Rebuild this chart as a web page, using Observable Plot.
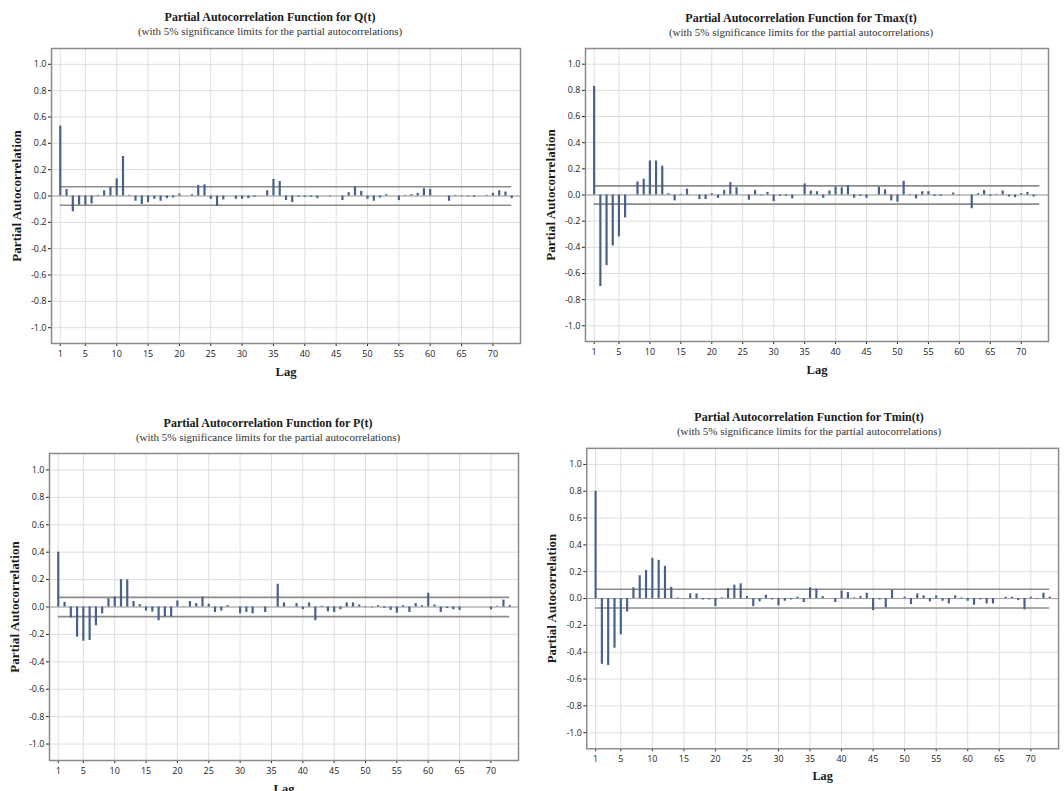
<!DOCTYPE html>
<html><head><meta charset="utf-8">
<script src="https://cdn.jsdelivr.net/npm/d3@7"></script>
<script src="https://cdn.jsdelivr.net/npm/@observablehq/plot@0.6"></script>
<style>
html,body{margin:0;padding:0;background:#fff;}
#root{position:relative;width:1064px;height:791px;overflow:hidden;background:#fff;}
.title{position:absolute;transform:translateX(-50%);white-space:nowrap;font-family:"Liberation Serif","Times New Roman",serif;color:#1a1a1a;line-height:1;}
.t1{font-weight:bold;font-size:12px;}
.t2{font-size:11px;color:#333;}
.panel{position:absolute;}
.panel svg g[aria-label="y-axis label"] text{font-family:"Liberation Serif",serif;font-weight:bold;font-size:13px;letter-spacing:0.1px;fill:#1a1a1a;}
.panel svg g[aria-label="x-axis label"] text{font-family:"Liberation Serif",serif;font-weight:bold;font-size:12.5px;fill:#1a1a1a;}
</style>
</head><body><div id="root"></div>
<script>
const lags = [1,2,3,4,5,6,7,8,9,10,11,12,13,14,15,16,17,18,19,20,21,22,23,24,25,26,27,28,29,30,31,32,33,34,35,36,37,38,39,40,41,42,43,44,45,46,47,48,49,50,51,52,53,54,55,56,57,58,59,60,61,62,63,64,65,66,67,68,69,70,71,72,73];
const xTicks = [1,5,10,15,20,25,30,35,40,45,50,55,60,65,70];
const yTicks = [-1.0,-0.8,-0.6,-0.4,-0.2,0.0,0.2,0.4,0.6,0.8,1.0];
const sigLimit = 0.07;

const pacfQ = [0.53,0.05,-0.12,-0.07,-0.07,-0.06,0.005,0.04,0.065,0.13,0.30,0.005,-0.04,-0.065,-0.05,-0.025,-0.04,-0.02,-0.015,0.015,0.0,0.01,0.08,0.085,-0.025,-0.08,-0.03,0.0,-0.025,-0.025,-0.02,-0.01,0.0,0.04,0.125,0.11,-0.035,-0.05,-0.01,-0.01,-0.01,-0.02,0.0,-0.005,0.0,-0.035,0.025,0.07,0.035,-0.025,-0.04,-0.015,0.01,0.0,-0.035,0.005,0.01,0.02,0.055,0.05,0.0,0.0,-0.04,0.005,-0.005,-0.005,-0.01,0.0,0.005,0.02,0.04,0.03,-0.02];
const pacfTmax = [0.83,-0.70,-0.54,-0.39,-0.32,-0.175,0.0,0.10,0.12,0.26,0.26,0.22,0.01,-0.045,0.005,0.045,0.0,-0.035,-0.035,0.01,-0.025,0.035,0.095,0.055,0.0,-0.04,0.035,-0.005,0.02,-0.05,-0.01,-0.01,-0.03,0.0,0.085,0.03,0.025,-0.025,0.03,0.06,0.055,0.07,-0.025,-0.01,-0.025,0.0,0.06,0.04,-0.045,-0.055,0.105,0.005,-0.03,0.025,0.025,-0.01,-0.01,0.0,0.015,-0.005,0.0,-0.105,0.01,0.035,-0.01,0.005,0.03,-0.015,-0.02,0.01,0.02,-0.015,0.0];
const pacfP = [0.40,0.034,-0.08,-0.22,-0.25,-0.245,-0.137,-0.05,0.06,0.073,0.20,0.198,0.04,0.017,-0.03,-0.037,-0.10,-0.073,-0.073,0.044,0.003,0.04,0.025,0.073,0.02,-0.04,-0.03,0.01,0.0,-0.05,-0.04,-0.05,0.0,-0.04,0.0,0.166,0.03,0.0,0.025,-0.02,0.03,-0.10,0.005,-0.035,-0.04,-0.02,0.03,0.03,0.015,-0.005,-0.005,0.01,-0.01,-0.025,-0.045,0.01,-0.04,0.025,0.01,0.10,0.015,-0.04,-0.01,-0.02,-0.025,0.0,0.0,0.0,0.0,-0.02,0.005,0.05,0.01];
const pacfTmin = [0.80,-0.49,-0.50,-0.37,-0.27,-0.10,0.08,0.17,0.21,0.30,0.285,0.24,0.084,0.005,0.0,0.035,0.035,-0.01,-0.01,-0.06,0.005,0.075,0.10,0.11,0.015,-0.06,-0.025,0.025,-0.01,-0.055,-0.02,-0.01,0.01,-0.03,0.08,0.07,0.015,0.0,-0.03,0.057,0.045,0.005,0.015,0.04,-0.09,-0.01,-0.07,0.062,0.0,0.01,-0.045,0.035,0.02,-0.025,0.02,-0.02,-0.04,0.02,0.005,-0.02,-0.05,-0.01,-0.04,-0.04,0.0,0.01,0.01,-0.015,-0.085,0.01,-0.005,0.04,0.01];

const subtitle = "(with 5% significance limits for the partial autocorrelations)";
const panels = [
  {name:"Q(t)", values:pacfQ, left:51, top:48, right:520, bottom:343, tx:270, ty:11},
  {name:"Tmax(t)", values:pacfTmax, left:585, top:48, right:1048, bottom:341, tx:801, ty:12},
  {name:"P(t)", values:pacfP, left:49, top:453, right:518, bottom:760, tx:268, ty:417},
  {name:"Tmin(t)", values:pacfTmin, left:587, top:448, right:1066, bottom:753, tx:809, ty:411}
];

const root = document.getElementById("root");
const mL = 50, mR = 6, mT = 10, mB = 45;
for (const p of panels) {
  const t1 = document.createElement("div");
  t1.className = "title t1";
  t1.textContent = "Partial Autocorrelation Function for " + p.name;
  t1.style.left = p.tx + "px"; t1.style.top = p.ty + "px";
  root.appendChild(t1);
  const t2 = document.createElement("div");
  t2.className = "title t2";
  t2.textContent = subtitle;
  t2.style.left = p.tx + "px"; t2.style.top = (p.ty + 15) + "px";
  root.appendChild(t2);

  const rows = lags.map((lag, i) => ({lag, pacf: p.values[i]}));
  const chart = Plot.plot({
    width: (p.right - p.left) + mL + mR,
    height: (p.bottom - p.top) + mT + mB,
    marginLeft: mL, marginRight: mR, marginTop: mT, marginBottom: mB,
    style: {fontFamily: "'Open Sans', sans-serif", fontSize: "9px", color: "#222", background: "transparent", overflow: "visible"},
    x: {domain: [-0.4, 74.4]},
    y: {domain: [-1.12, 1.12]},
    marks: [
      Plot.gridX(xTicks, {stroke: "#dedede", strokeOpacity: 1, strokeWidth: 1}),
      Plot.gridY(yTicks, {stroke: "#dedede", strokeOpacity: 1, strokeWidth: 1}),
      Plot.ruleY([0], {stroke: "#a0a0a0", strokeWidth: 1}),
      Plot.ruleY([sigLimit, -sigLimit], {x1: 1, x2: 73, stroke: "#8c8c8c", strokeWidth: 1.6}),
      Plot.ruleX(rows, {x: "lag", y1: 0, y2: "pacf", stroke: "#47618a", strokeWidth: 2.2}),
      Plot.axisX(xTicks, {tickSize: 3, tickPadding: 4, tickFormat: d => String(d), label: "Lag", labelAnchor: "center", labelOffset: 32, labelArrow: "none"}),
      Plot.axisY(yTicks, {tickSize: 3, tickPadding: 2, tickFormat: d => d.toFixed(1), label: "Partial Autocorrelation", labelAnchor: "center", labelOffset: 40, labelArrow: "none"}),
      Plot.frame({stroke: "#8a8a8a", strokeWidth: 1.5})
    ]
  });
  const wrap = document.createElement("div");
  wrap.className = "panel";
  wrap.style.left = (p.left - mL) + "px";
  wrap.style.top = (p.top - mT) + "px";
  wrap.appendChild(chart);
  root.appendChild(wrap);
}
</script>
</body></html>
